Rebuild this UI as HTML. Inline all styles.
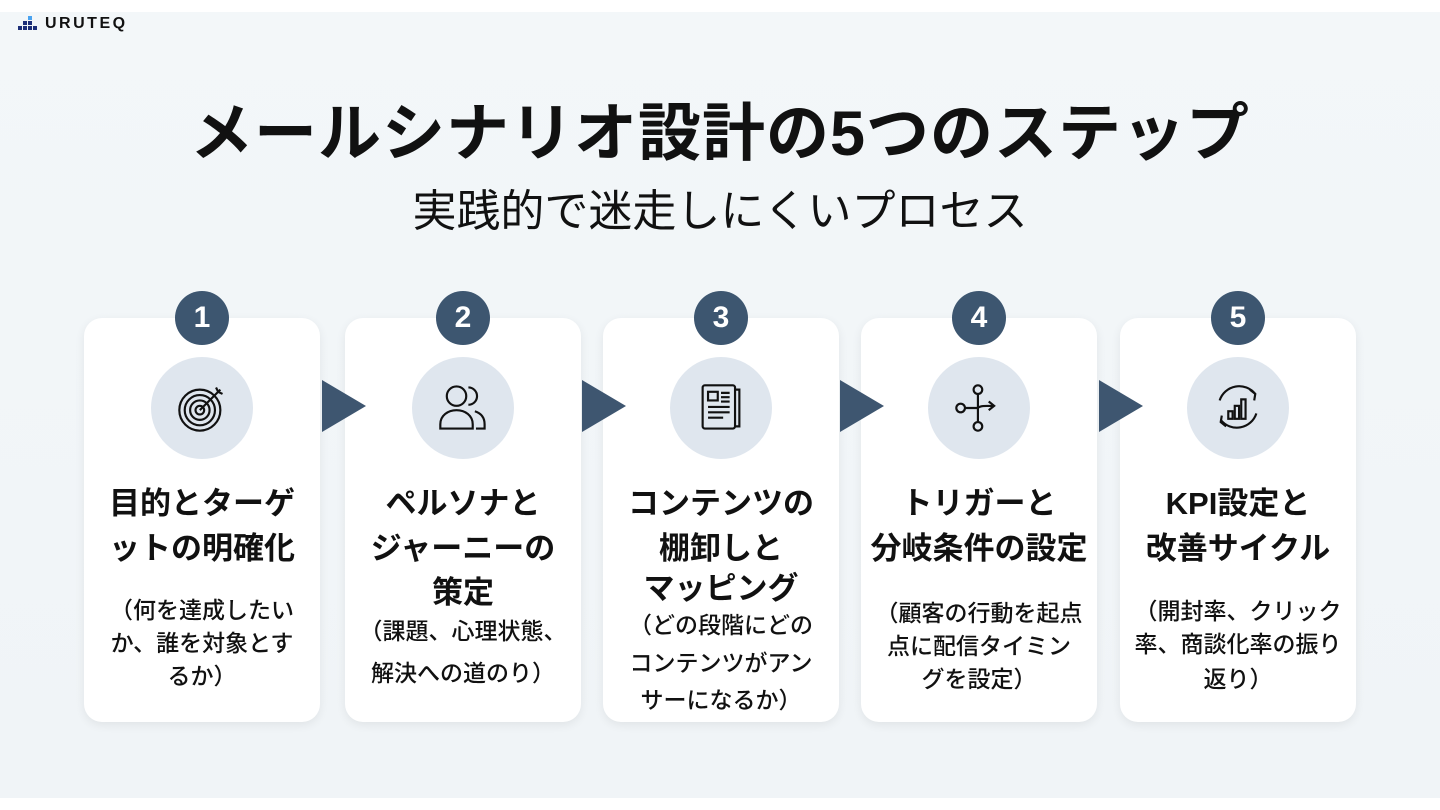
<!DOCTYPE html>
<html><head><meta charset="utf-8"><style>
*{margin:0;padding:0;box-sizing:border-box}
body{width:1440px;height:810px;background:#fff;position:relative;overflow:hidden;font-family:"Liberation Sans","Noto Sans CJK JP",sans-serif;color:#111}
.bg{position:absolute;left:0;top:12px;width:1440px;height:786px;background:linear-gradient(#f3f7f9,#f0f4f7)}
.logo{position:absolute;left:45px;top:15px;font-size:16px;letter-spacing:2.5px;font-weight:600;color:#111}
.t{position:absolute;left:0;width:1440px;text-align:center}
.card{position:absolute;top:318px;width:236px;height:404px;background:#fff;border-radius:18px;box-shadow:0 3px 10px rgba(0,0,0,.07)}
.badge{position:absolute;top:291px;width:54px;height:54px;border-radius:50%;background:#3d5670;color:#fff;font-weight:bold;font-size:30px;text-align:center;line-height:54px}
.ic{position:absolute;top:357px;width:102px;height:102px;border-radius:50%;background:#dfe6ee}
.ic svg{position:absolute;left:24px;top:24px}
.arr{position:absolute;top:380px;width:0;height:0;border-top:26px solid transparent;border-bottom:26px solid transparent;border-left:44px solid #3e5670}
.ln{position:absolute;width:236px;text-align:center;white-space:nowrap}
.h{font-size:31px;font-weight:bold}
.d{font-size:23px;font-weight:500}
</style></head><body>
<div class="bg"></div>
<svg style="position:absolute;left:18px;top:16px" width="24" height="20"><rect x="10" y="0" width="4" height="4" fill="#4aa3f0"/><rect x="5" y="5" width="4" height="4" fill="#1d2f78"/><rect x="10" y="5" width="4" height="4" fill="#1d2f78"/><rect x="0" y="10" width="4" height="4" fill="#1d2f78"/><rect x="5" y="10" width="4" height="4" fill="#1d2f78"/><rect x="10" y="10" width="4" height="4" fill="#1d2f78"/><rect x="15" y="10" width="4" height="4" fill="#1d2f78"/></svg>
<div class="logo">URUTEQ</div>
<div class="t" style="top:83px;font-size:63px;font-weight:bold;letter-spacing:1px">メールシナリオ設計の5つのステップ</div>
<div class="t" style="top:175px;font-size:44px">実践的で迷走しにくいプロセス</div>

<div class="card" style="left:84px"></div>
<div class="card" style="left:345px"></div>
<div class="card" style="left:603px"></div>
<div class="card" style="left:861px"></div>
<div class="card" style="left:1120px"></div>

<div class="arr" style="left:322px"></div>
<div class="arr" style="left:582px"></div>
<div class="arr" style="left:840px"></div>
<div class="arr" style="left:1099px"></div>

<div class="badge" style="left:175px">1</div>
<div class="badge" style="left:436px">2</div>
<div class="badge" style="left:694px">3</div>
<div class="badge" style="left:952px">4</div>
<div class="badge" style="left:1211px">5</div>

<div class="ic" style="left:151px"><svg width="54" height="54" viewBox="0 0 50 50" fill="none" stroke="#111" stroke-width="2"><circle cx="23" cy="27" r="19"/><circle cx="23" cy="27" r="14"/><circle cx="23" cy="27" r="9"/><circle cx="23" cy="27" r="4"/><path d="M23 27L42 8M38 6l2 4 4 2"/></svg></div>
<div class="ic" style="left:412px"><svg width="54" height="54" viewBox="0 0 50 50" fill="none" stroke="#111" stroke-width="2"><circle cx="19" cy="14" r="9"/><path d="M4 44v-4c0-8 7-13 15-13s15 5 15 13v4z"/><path d="M30 6a8 8 0 0 1 0 16M36 28c6 2 9 6 9 12v4h-8"/></svg></div>
<div class="ic" style="left:670px"><svg width="54" height="54" viewBox="0 0 50 50" fill="none" stroke="#111" stroke-width="2"><rect x="8" y="4" width="30" height="40" rx="2"/><path d="M38 8h4v34h-4"/><rect x="13" y="10" width="9" height="8"/><path d="M25 11h8M25 15h8M25 19h8M13 24h20M13 29h20M13 34h14"/></svg></div>
<div class="ic" style="left:928px"><svg width="54" height="54" viewBox="0 0 50 50" fill="none" stroke="#111" stroke-width="2"><circle cx="24" cy="8" r="4"/><circle cx="24" cy="42" r="4"/><circle cx="8" cy="25" r="4"/><path d="M24 12v26M12 25h12M24 25c2-2 6-2 14-2M34 19l5 4-5 4"/></svg></div>
<div class="ic" style="left:1187px"><svg width="54" height="54" viewBox="0 0 50 50" fill="none" stroke="#111" stroke-width="2"><path d="M8 18a19 19 0 0 1 33-6M42 30a19 19 0 0 1-33 6"/><path d="M36 8l5 4-1 6M14 42l-5-4 1-6"/><rect x="16" y="28" width="4" height="7"/><rect x="22" y="23" width="4" height="12"/><rect x="28" y="17" width="4" height="18"/></svg></div>

<div class="ln h" style="left:84px;top:478px">目的とターゲ</div>
<div class="ln h" style="left:84px;top:523px">ットの明確化</div>
<div class="ln d" style="left:84px;top:591px">（何を達成したい</div>
<div class="ln d" style="left:84px;top:624px">か、誰を対象とす</div>
<div class="ln d" style="left:84px;top:657px">るか）</div>

<div class="ln h" style="left:345px;top:478px">ペルソナと</div>
<div class="ln h" style="left:345px;top:523px">ジャーニーの</div>
<div class="ln h" style="left:345px;top:567px">策定</div>
<div class="ln d" style="left:345px;top:612px">（課題、心理状態、</div>
<div class="ln d" style="left:345px;top:654px">解決への道のり）</div>

<div class="ln h" style="left:603px;top:478px">コンテンツの</div>
<div class="ln h" style="left:603px;top:523px">棚卸しと</div>
<div class="ln h" style="left:603px;top:563px">マッピング</div>
<div class="ln d" style="left:603px;top:606px">（どの段階にどの</div>
<div class="ln d" style="left:603px;top:644px">コンテンツがアン</div>
<div class="ln d" style="left:603px;top:681px">サーになるか）</div>

<div class="ln h" style="left:861px;top:478px">トリガーと</div>
<div class="ln h" style="left:861px;top:523px">分岐条件の設定</div>
<div class="ln d" style="left:861px;top:594px">（顧客の行動を起点</div>
<div class="ln d" style="left:861px;top:627px">点に配信タイミン</div>
<div class="ln d" style="left:861px;top:660px">グを設定）</div>

<div class="ln h" style="left:1120px;top:478px">KPI設定と</div>
<div class="ln h" style="left:1120px;top:523px">改善サイクル</div>
<div class="ln d" style="left:1120px;top:592px">（開封率、クリック</div>
<div class="ln d" style="left:1120px;top:625px">率、商談化率の振り</div>
<div class="ln d" style="left:1120px;top:660px">返り）</div>
</body></html>
